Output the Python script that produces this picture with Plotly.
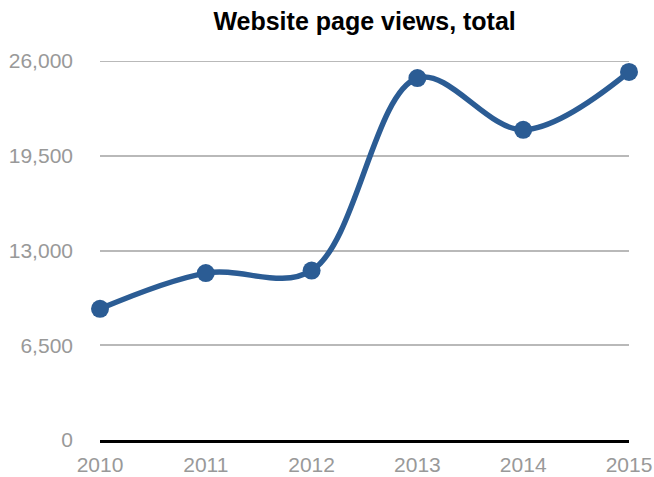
import plotly.graph_objects as go

years = ["2010", "2011", "2012", "2013", "2014", "2015"]
views = [9000, 11450, 11620, 24830, 21280, 25250]
y_ticks = [0, 6500, 13000, 19500, 26000]
y_labels = ["0", "6,500", "13,000", "19,500", "26,000"]

x_idx = list(range(len(years)))
grid_color = "#b9b9b9"

fig = go.Figure()
fig.add_trace(go.Scatter(
    x=x_idx, y=views, mode="lines+markers",
    line=dict(color="#2b5c94", width=5.5, shape="spline", smoothing=1.0),
    marker=dict(color="#2b5c94", size=18),
    cliponaxis=False, hoverinfo="skip", showlegend=False,
))

# top gridline (plotly omits gridlines lying on the plot edge)
fig.add_hline(y=y_ticks[-1], line=dict(color=grid_color, width=2), layer="below")

fig.update_layout(
    template="none",
    width=654, height=477,
    margin=dict(l=100, r=25, t=61, b=37, autoexpand=False),
    paper_bgcolor="white", plot_bgcolor="white",
    font=dict(family="Liberation Sans, Arial, sans-serif", color="#999999", size=21),
    title=dict(text="<b>Website page views, total</b>", x=0.5575, xanchor="center",
               y=0.955, yanchor="middle",
               font=dict(size=25, color="black", family="Liberation Sans, Arial, sans-serif")),
)
fig.update_xaxes(
    range=[0, len(years) - 1], tickvals=x_idx, ticktext=years,
    showgrid=False, zeroline=False, showline=True, linecolor="black", linewidth=3,
    ticks="", tickfont=dict(size=21, color="#999999"), ticklabelstandoff=4,
    automargin=False,
)
fig.update_yaxes(
    range=[0, y_ticks[-1]], tickvals=y_ticks, ticktext=y_labels,
    showgrid=True, gridcolor=grid_color, gridwidth=2, zeroline=False,
    showline=False, ticks="", tickfont=dict(size=21, color="#999999"),
    ticklabelstandoff=26, automargin=False,
)

fig.write_html("out.html")
